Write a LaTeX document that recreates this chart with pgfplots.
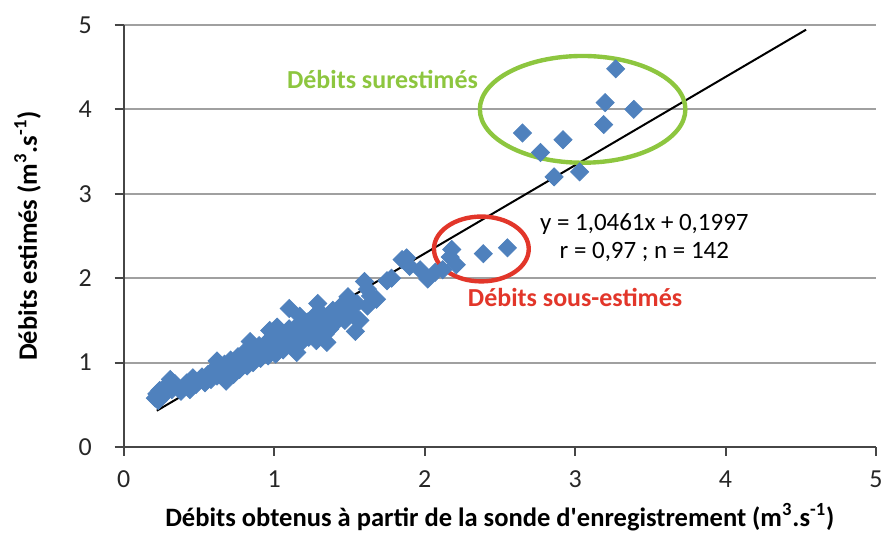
\documentclass[border=0pt]{standalone}
\usepackage{fontspec}
\setmainfont{Carlito}
\usepackage{pgfplots}
\pgfplotsset{compat=1.18}

\definecolor{ptblue}{RGB}{79,129,189}
\definecolor{okgreen}{RGB}{141,198,63}
\definecolor{badred}{RGB}{226,54,42}
\definecolor{gridgray}{RGB}{160,160,160}
\definecolor{axgray}{RGB}{70,70,70}

\begin{document}
\begin{tikzpicture}
\useasboundingbox (-62pt,-44pt) rectangle (381pt,224pt);
\begin{axis}[
    scale only axis,
    width=377pt, height=211.5pt,
    xmin=0, xmax=5, ymin=0, ymax=5,
    xtick={0,1,...,5}, ytick={0,1,...,5},
    axis lines*=left,
    axis line style={axgray, line width=1pt},
    tick align=outside,
    major tick length=4.5pt,
    tick style={axgray, line width=1pt},
    ymajorgrids,
    grid style={gridgray, line width=1pt},
    clip=false,
    /pgf/number format/assume math mode=true,
    ticklabel style={font=\fontsize{13}{15}\selectfont, text=black!85},
    yticklabel style={xshift=-8pt},
    xticklabel style={yshift=-4pt},
    xlabel={\bfseries Débits obtenus à partir de la sonde d\textquotesingle enregistrement (m\textsuperscript{3}.s\textsuperscript{-1})},
    ylabel={\bfseries Débits estimés (m\textsuperscript{3}.s\textsuperscript{-1})},
    label style={font=\fontsize{13.3}{15}\selectfont},
    xlabel style={yshift=-1pt},
    ylabel style={yshift=12pt},
]
% mesures
\addplot[only marks, mark=square*, mark size=3.2pt,
    mark options={rotate=45, fill=ptblue, draw=ptblue}] coordinates {
(0.21,0.58) (0.22,0.63) (0.23,0.55) (0.24,0.67) (0.25,0.60) (0.27,0.70)
(0.28,0.64) (0.30,0.73) (0.31,0.80) (0.32,0.68) (0.34,0.75) (0.36,0.70)
(0.38,0.66) (0.40,0.72) (0.42,0.76) (0.44,0.68) (0.46,0.82) (0.48,0.74)
(0.50,0.78) (0.52,0.83) (0.54,0.76) (0.56,0.86) (0.58,0.80) (0.60,0.92)
(0.62,0.84) (0.62,1.02) (0.63,0.95) (0.65,0.88) (0.67,0.98) (0.68,0.78)
(0.70,0.92) (0.71,1.03) (0.73,0.86) (0.74,0.98) (0.76,1.07) (0.77,0.92)
(0.79,1.02) (0.80,1.12) (0.82,0.96) (0.83,1.08) (0.84,1.25) (0.85,1.17)
(0.86,1.00) (0.88,1.12) (0.90,1.20) (0.91,1.05) (0.93,1.15) (0.95,1.24)
(0.96,1.08) (0.97,1.38) (0.98,1.18) (1.00,1.28) (1.01,1.10) (1.02,1.42)
(1.03,1.22) (1.05,1.34) (1.06,1.15) (1.08,1.27) (1.10,1.64) (1.10,1.40)
(1.12,1.20) (1.14,1.32) (1.15,1.12) (1.16,1.45) (1.17,1.55) (1.18,1.24)
(1.20,1.36) (1.22,1.48) (1.22,1.31) (1.23,1.30) (1.25,1.42) (1.27,1.56)
(1.28,1.26) (1.29,1.70) (1.30,1.38) (1.31,1.59) (1.32,1.48) (1.34,1.34)
(1.35,1.24) (1.36,1.52) (1.37,1.40) (1.39,1.62) (1.40,1.46) (1.42,1.55)
(1.44,1.55) (1.45,1.68) (1.47,1.50) (1.49,1.78) (1.50,1.60) (1.53,1.55)
(1.54,1.37) (1.55,1.70) (1.57,1.50) (1.60,1.96) (1.62,1.67) (1.62,1.87)
(1.64,1.79) (1.68,1.75) (1.75,1.97) (1.78,2.00) (1.85,2.22) (1.88,2.24)
(1.90,2.14) (1.97,2.10) (2.02,1.99) (2.07,2.07) (2.12,2.10) (2.17,2.25)
(2.18,2.34) (2.21,2.16) (2.39,2.29) (2.55,2.36)
(2.65,3.72) (2.77,3.49) (2.86,3.20) (2.92,3.64) (3.03,3.26) (3.19,3.82)
(3.20,4.08) (3.27,4.48) (3.39,4.00)
};
% droite de regression
\addplot[black, line width=1pt] coordinates {(0.22,0.43) (4.535,4.944)};

\draw[okgreen, line width=2.2pt] (axis cs:3.05,4.0) ellipse [x radius=51.5pt, y radius=26.75pt];
\draw[badred, line width=2.2pt] (axis cs:2.377,2.346) ellipse [x radius=23.75pt, y radius=16.25pt];

\node[text=okgreen, font=\bfseries\fontsize{13}{15}\selectfont] at (axis cs:1.72,4.35) {Débits surestimés};
\node[text=badred, font=\bfseries\fontsize{13}{15}\selectfont] at (axis cs:3.0,1.77) {Débits sous-estimés};
\node[font=\fontsize{12.5}{15}\selectfont, align=center] at (axis cs:3.46,2.48)
    {y = 1,0461x + 0,1997\\[-1pt] r = 0,97 ; n = 142};
\end{axis}
\end{tikzpicture}
\end{document}
